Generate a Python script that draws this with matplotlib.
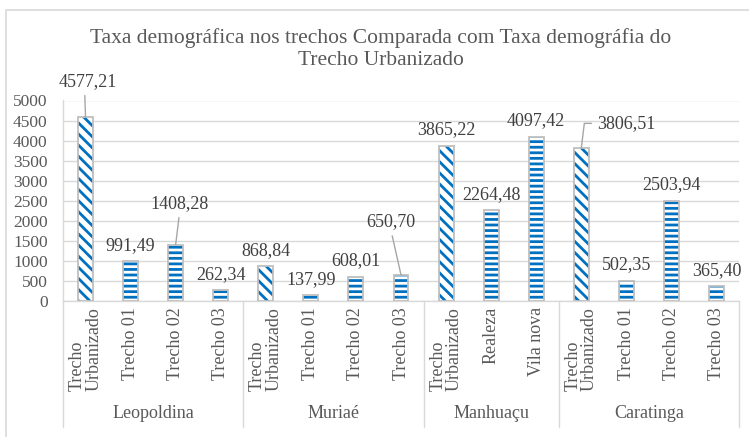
import matplotlib
matplotlib.use("Agg")
import matplotlib.pyplot as plt
from matplotlib.patches import Rectangle
import matplotlib.transforms as mtransforms

# ---------------- data ----------------
groups = ["Leopoldina", "Muriaé", "Manhuaçu", "Caratinga"]
group_sizes = [4, 4, 3, 4]
categories = ["Trecho\nUrbanizado", "Trecho 01", "Trecho 02", "Trecho 03",
              "Trecho\nUrbanizado", "Trecho 01", "Trecho 02", "Trecho 03",
              "Trecho\nUrbanizado", "Realeza", "Vila nova",
              "Trecho\nUrbanizado", "Trecho 01", "Trecho 02", "Trecho 03"]
values = [4577.21, 991.49, 1408.28, 262.34,
          868.84, 137.99, 608.01, 650.70,
          3865.22, 2264.48, 4097.42,
          3806.51, 502.35, 2503.94, 365.40]
yticks = [0, 500, 1000, 1500, 2000, 2500, 3000, 3500, 4000, 4500, 5000]
title = "Taxa demográfica nos trechos Comparada com Taxa demográfia do\nTrecho Urbanizado"

# ---------------- style ----------------
FONT = "Liberation Serif"
plt.rcParams["font.family"] = [FONT, "DejaVu Serif"]
plt.rcParams["hatch.linewidth"] = 2.0
BLUE = "#0070C0"
EDGE = "#BFBFBF"
GRID = "#D9D9D9"
TXT = "#404040"
AX_TXT = "#595959"
DIAG = chr(92) * 3
HORIZ = "---"

W, H = 749, 437
fig = plt.figure(figsize=(W / 100, H / 100), dpi=100)
fig.patch.set_facecolor("white")

# chart border (cropped at right/bottom in the reference)
fig.patches.append(Rectangle((6 / W, -0.1), 1.2, 1 - 10 / H + 0.1,
                             transform=fig.transFigure, fill=False,
                             edgecolor=GRID, linewidth=1.2))

left, right, top, zero = 63, 739, 100.5, 301
ax = fig.add_axes([left / W, (H - zero) / H, (right - left) / W, (zero - top) / H])
ax.set_xlim(-0.5, len(values) - 0.5)
ax.set_ylim(0, 5000)

x = list(range(len(values)))
is_urb = [c.startswith("Trecho\n") for c in categories]
bw = 0.33
for xi, v, u in zip(x, values, is_urb):
    ax.bar(xi, v, width=bw, color="white", edgecolor=BLUE, linewidth=0,
           hatch=DIAG if u else HORIZ, zorder=3)
    ax.bar(xi, v, width=bw, color="none", edgecolor=EDGE, linewidth=1.3, zorder=4)

ax.set_yticks(yticks)
ax.set_yticklabels([str(t) for t in yticks], fontsize=12.5, color=AX_TXT)
ax.tick_params(axis="y", length=0, pad=11)
ax.set_xticks([])
ax.yaxis.grid(True, color=GRID, linewidth=1.0, zorder=0)
ax.set_axisbelow(True)
for s in ["top", "right"]:
    ax.spines[s].set_visible(False)
ax.spines["left"].set_color(GRID)
ax.spines["bottom"].set_color(GRID)
ax.spines["bottom"].set_linewidth(1.0)
ax.spines["left"].set_linewidth(1.0)

# data labels
def fmt(v):
    return f"{v:.2f}".replace(".", ",")

special = {
    0: dict(off=(2, 36), relpos=(0.45, 0), conn="arc3"),
    2: dict(off=(4, 41), relpos=(0.5, 0), conn="arc3"),
    7: dict(off=(-10, 53), relpos=(0.5, 0), conn="arc3"),
    11: dict(off=(45, 25), relpos=(0, 0.5), conn="angle,angleA=0,angleB=83,rad=0"),
}
for i, v in enumerate(values):
    if i in special:
        sp = special[i]
        ax.annotate(fmt(v), xy=(i, v), xytext=sp["off"], textcoords="offset pixels",
                    ha="center", va="center", fontsize=13, color=TXT, zorder=6,
                    arrowprops=dict(arrowstyle="-", color="#A6A6A6", lw=1.0,
                                    shrinkA=2, shrinkB=0, relpos=sp["relpos"],
                                    connectionstyle=sp["conn"]))
    else:
        ax.annotate(fmt(v), xy=(i, v), xytext=(0, 16), textcoords="offset pixels",
                    ha="center", va="center", fontsize=13, color=TXT, zorder=6)

# multi-level category axis
trans = mtransforms.blended_transform_factory(ax.transData, ax.transAxes)
ph = zero - top
def ax_y(py):
    return (zero - py) / ph

for i, c in enumerate(categories):
    ax.text(i, ax_y(307), c, transform=trans, rotation=90, ha="center", va="top",
            multialignment="left", linespacing=0.95, fontsize=13, color=AX_TXT)

start = 0
bounds = [-0.5]
for g, n in zip(groups, group_sizes):
    ax.text(start + (n - 1) / 2, ax_y(413), g, transform=trans, ha="center",
            va="center", fontsize=13, color=AX_TXT)
    start += n
    bounds.append(start - 0.5)
for b in bounds:
    ax.plot([b, b], [0, ax_y(427)], transform=trans, color=GRID, lw=1.0,
            clip_on=False, zorder=2)

fig.text(381 / W, 1 - 49 / H, title, ha="center", va="center", fontsize=15.5,
         color=AX_TXT, linespacing=1.15)

fig.savefig("out.png", dpi=100)
